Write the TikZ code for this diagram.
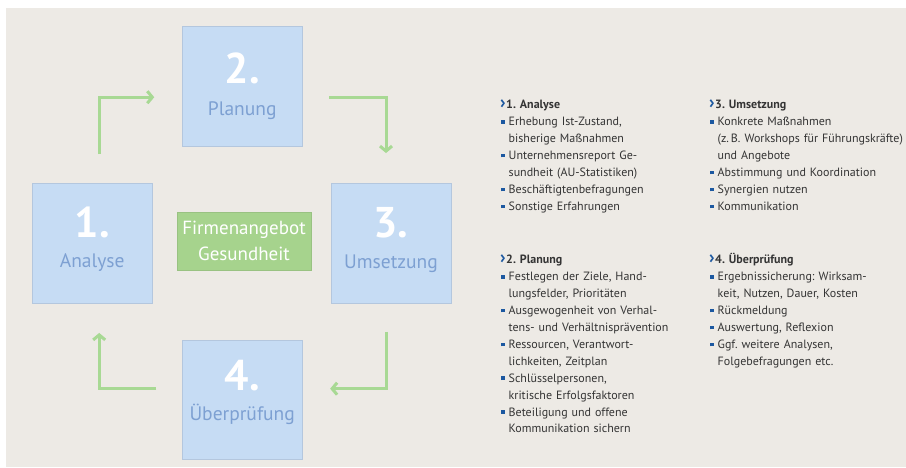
\documentclass[tikz,border=0pt]{standalone}
\usepackage{fontspec}
\setmainfont{PT Sans}
\usetikzlibrary{arrows.meta, positioning, calc}
\definecolor{paper}{RGB}{237,234,229}
\definecolor{stepfill}{RGB}{198,220,244}
\definecolor{stepline}{RGB}{180,199,222}
\definecolor{steptext}{RGB}{125,160,210}
\definecolor{cyclegreen}{RGB}{168,217,148}
\definecolor{corefill}{RGB}{166,211,141}
\definecolor{bodytext}{RGB}{52,52,52}
\definecolor{accent}{RGB}{28,88,160}
\newcommand{\sqbullet}{\textcolor{accent}{\rule[2.2pt]{3.6pt}{3.6pt}}}
\newcommand{\bitem}{\par\noindent\hangindent=7.5pt\hangafter=1\makebox[7.5pt][l]{\sqbullet}}
\newcommand{\shead}[1]{\noindent\hspace*{-1pt}\makebox[6pt][l]{\textcolor{accent}{\fontsize{18}{18}\selectfont\bfseries ›}}\textbf{#1}}

\begin{document}
\frenchspacing
\begin{tikzpicture}[
	x=1pt, y=-1pt,
	% Styles for the cycle boxes
	stepbox/.style={draw=stepline, fill=stepfill, minimum size=119.5pt, inner sep=0pt},
	stepnum/.style={anchor=base, text=white, font=\fontsize{43}{43}\selectfont\bfseries},
	steplabel/.style={anchor=base, text=steptext, font=\fontsize{19.5}{19.5}\selectfont},
	corebox/.style={draw=corefill!92!black, fill=corefill, text=white, minimum width=134.6pt, minimum height=57.7pt, align=center, inner sep=0pt, font=\fontsize{19}{26}\selectfont},
	cycarrow/.style={draw=cyclegreen, line width=3pt, -{Straight Barb[length=5pt, width=12pt]}},
	% Styles for the text columns
	listblock/.style={anchor=base west, inner sep=0pt, text width=220pt, align=left, text=bodytext, font=\fontsize{12}{16.9}\selectfont}
	]
	
	\useasboundingbox (0,0) rectangle (906,468);
	\fill[paper] (6,8) rectangle (906,467);
	
	% ==========================================
	% CYCLE BOXES
	% ==========================================
	\node[stepbox] (b1) at (92.2,243) {};
	\node[stepbox] (b2) at (242.2,86.2) {};
	\node[stepbox] (b3) at (391,243) {};
	\node[stepbox] (b4) at (242.2,399.7) {};
	
	\node[stepnum] (n1) at ($(b1)+(0,-6)$) {1.};
	\node[steplabel] (l1) at ($(b1)+(0,25)$) {Analyse};
	\node[stepnum] (n2) at ($(b2)+(0,-3)$) {2.};
	\node[steplabel] (l2) at ($(b2)+(0,29)$) {Planung};
	\node[stepnum] (n3) at ($(b3)+(0,-6)$) {3.};
	\node[steplabel] (l3) at ($(b3)+(0,26)$) {Umsetzung};
	\node[stepnum] (n4) at ($(b4)+(0,-9)$) {4.};
	\node[steplabel] (l4) at ($(b4)+(0,21)$) {Überprüfung};
	
	% Centre label
	\node[corebox] (core) at (244,241) {Firmenangebot\\Gesundheit};
	
	% Cycle arrows
	\coordinate (a1s) at ($(b1.north)+(7,-29)$);
	\coordinate (a1e) at ($(b2.west)+(-28,11)$);
	\coordinate (a2s) at ($(b2.east)+(27,11)$);
	\coordinate (a2e) at ($(b3.north)+(-5,-30)$);
	\coordinate (a3s) at ($(b3.south)+(-5,29)$);
	\coordinate (a3e) at ($(b4.east)+(28,-11)$);
	\coordinate (a4s) at ($(b4.west)+(-26,-11)$);
	\coordinate (a4e) at ($(b1.south)+(7,30)$);
	\draw[cycarrow] (a1s) |- (a1e);
	\draw[cycarrow] (a2s) -| (a2e);
	\draw[cycarrow] (a3s) |- (a3e);
	\draw[cycarrow] (a4s) -| (a4e);
	
	% ==========================================
	% TEXT COLUMNS
	% ==========================================
	\node[listblock] (analyse) at (501,109) {\shead{1. Analyse}
		\bitem Erhebung Ist-Zustand,\newline bisherige Maßnahmen
		\bitem Unternehmensreport Ge-\newline sundheit (AU-Statistiken)
		\bitem Beschäftigtenbefragungen
		\bitem Sonstige Erfahrungen\par};
	
	\node[listblock] (planung) at (501,264) {\shead{2. Planung}
		\bitem Festlegen der Ziele, Hand-\newline lungsfelder, Prioritäten
		\bitem Ausgewogenheit von Verhal-\newline tens- und Verhältnisprävention
		\bitem Ressourcen, Verantwort-\newline lichkeiten, Zeitplan
		\bitem Schlüsselpersonen,\newline kritische Erfolgsfaktoren
		\bitem Beteiligung und offene\newline Kommunikation sichern\par};
	
	\node[listblock] (umsetzung) at (710,109) {\shead{3. Umsetzung}
		\bitem Konkrete Maßnahmen\newline (z.\,B. Workshops für Führungskräfte)\newline und Angebote
		\bitem Abstimmung und Koordination
		\bitem Synergien nutzen
		\bitem Kommunikation\par};
	
	\node[listblock] (pruefung) at (710,264) {\shead{4. Überprüfung}
		\bitem Ergebnissicherung: Wirksam-\newline keit, Nutzen, Dauer, Kosten
		\bitem Rückmeldung
		\bitem Auswertung, Reflexion
		\bitem Ggf. weitere Analysen,\newline Folgebefragungen etc.\par};
	
\end{tikzpicture}
\end{document}
